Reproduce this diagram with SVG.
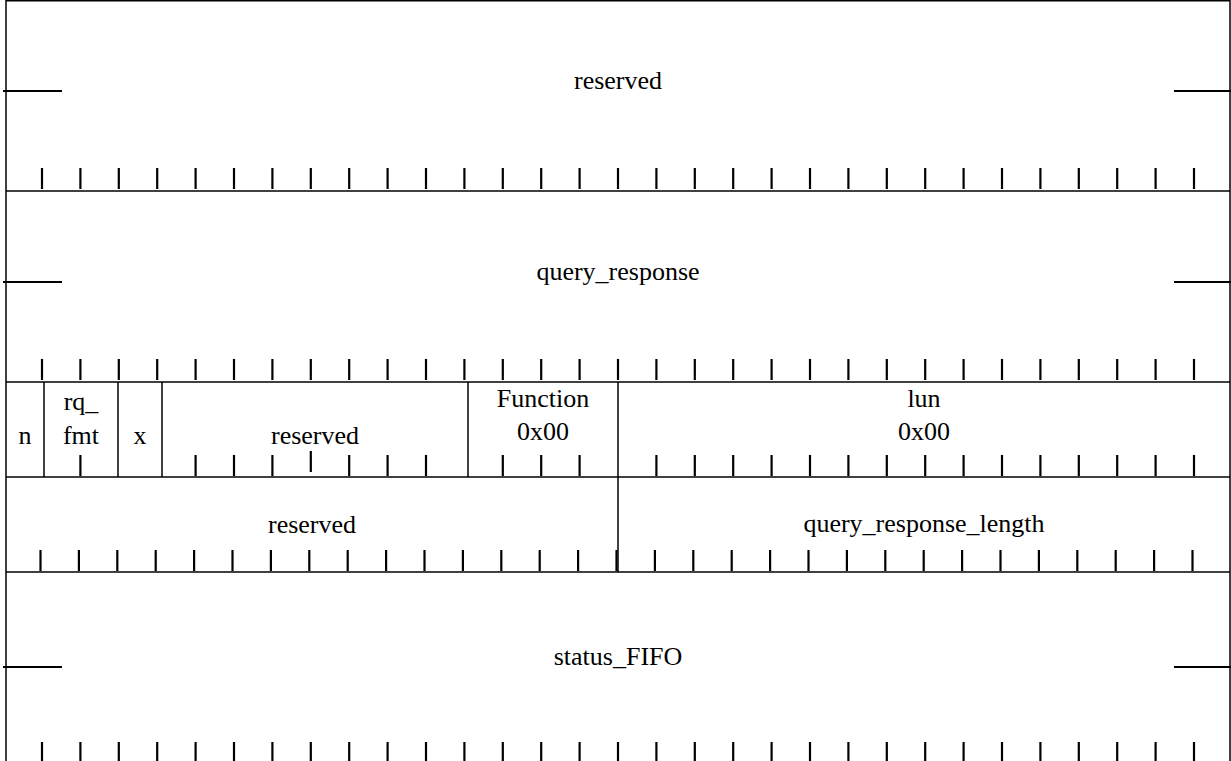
<svg xmlns="http://www.w3.org/2000/svg" width="1231" height="761" viewBox="0 0 1231 761">
<style>
.b{stroke:#000;stroke-width:1.5;fill:none}
.m{stroke:#000;stroke-width:2;fill:none}
.t{stroke:#000;stroke-width:2.2;fill:none}
text{font-family:"Liberation Serif","Times New Roman",serif;font-size:26px;fill:#000;text-anchor:middle}
</style>
<defs>
<path id="tk" d="M0,0 v21" class="t"/>
</defs>
<rect width="1231" height="761" fill="#fff"/>
<g id="frame">
<line class="b" x1="6" y1="0.75" x2="1230" y2="0.75"/>
<line class="b" x1="6" y1="0" x2="6" y2="761"/>
<line class="b" x1="1230" y1="0" x2="1230" y2="761"/>
<line class="b" x1="6" y1="191" x2="1230" y2="191"/>
<line class="b" x1="6" y1="382" x2="1230" y2="382"/>
<line class="b" x1="6" y1="477" x2="1230" y2="477"/>
<line class="b" x1="6" y1="572" x2="1230" y2="572"/>
</g>
<g id="row1-reserved">
<text x="618" y="89">reserved</text>
<line class="m" x1="3" y1="91" x2="62" y2="91"/>
<line class="m" x1="1174" y1="91" x2="1231" y2="91"/>
</g>
<g id="row2-query_response">
<text x="618" y="280">query_response</text>
<line class="m" x1="3" y1="282" x2="62" y2="282"/>
<line class="m" x1="1174" y1="282" x2="1231" y2="282"/>
</g>
<g id="row3-n">
<line class="b" x1="44" y1="382" x2="44" y2="477"/>
<text x="25" y="444">n</text>
</g>
<g id="row3-rq_fmt">
<line class="b" x1="118" y1="382" x2="118" y2="477"/>
<text x="81" y="410">rq_</text>
<text x="81" y="444">fmt</text>
</g>
<g id="row3-x">
<line class="b" x1="162" y1="382" x2="162" y2="477"/>
<text x="140" y="444">x</text>
</g>
<g id="row3-reserved">
<line class="b" x1="468" y1="382" x2="468" y2="477"/>
<text x="315" y="444">reserved</text>
</g>
<g id="row3-function">
<line class="b" x1="618" y1="382" x2="618" y2="572"/>
<text x="543" y="407">Function</text>
<text x="543" y="440">0x00</text>
</g>
<g id="row3-lun">
<text x="924" y="407">lun</text>
<text x="924" y="440">0x00</text>
</g>
<g id="row4-reserved">
<text x="312" y="533">reserved</text>
</g>
<g id="row4-query_response_length">
<text x="924" y="532">query_response_length</text>
</g>
<g id="row5-status_FIFO">
<text x="618" y="665">status_FIFO</text>
<line class="m" x1="3" y1="667" x2="62" y2="667"/>
<line class="m" x1="1174" y1="667" x2="1231" y2="667"/>
</g>
<g id="connectors">
<g id="ticks-row1" transform="translate(0,168)">
<use href="#tk" x="42"/><use href="#tk" x="80.4"/><use href="#tk" x="118.8"/><use href="#tk" x="157.2"/><use href="#tk" x="195.6"/><use href="#tk" x="234"/><use href="#tk" x="272.4"/><use href="#tk" x="310.8"/><use href="#tk" x="349.2"/><use href="#tk" x="387.6"/><use href="#tk" x="426"/><use href="#tk" x="464.4"/><use href="#tk" x="502.8"/><use href="#tk" x="541.2"/><use href="#tk" x="579.6"/><use href="#tk" x="618"/><use href="#tk" x="656.4"/><use href="#tk" x="694.8"/><use href="#tk" x="733.2"/><use href="#tk" x="771.6"/><use href="#tk" x="810"/><use href="#tk" x="848.4"/><use href="#tk" x="886.8"/><use href="#tk" x="925.2"/><use href="#tk" x="963.6"/><use href="#tk" x="1002"/><use href="#tk" x="1040.4"/><use href="#tk" x="1078.8"/><use href="#tk" x="1117.2"/><use href="#tk" x="1155.6"/><use href="#tk" x="1194"/>
</g>
<g id="ticks-row2" transform="translate(0,359)">
<use href="#tk" x="42"/><use href="#tk" x="80.4"/><use href="#tk" x="118.8"/><use href="#tk" x="157.2"/><use href="#tk" x="195.6"/><use href="#tk" x="234"/><use href="#tk" x="272.4"/><use href="#tk" x="310.8"/><use href="#tk" x="349.2"/><use href="#tk" x="387.6"/><use href="#tk" x="426"/><use href="#tk" x="464.4"/><use href="#tk" x="502.8"/><use href="#tk" x="541.2"/><use href="#tk" x="579.6"/><use href="#tk" x="618"/><use href="#tk" x="656.4"/><use href="#tk" x="694.8"/><use href="#tk" x="733.2"/><use href="#tk" x="771.6"/><use href="#tk" x="810"/><use href="#tk" x="848.4"/><use href="#tk" x="886.8"/><use href="#tk" x="925.2"/><use href="#tk" x="963.6"/><use href="#tk" x="1002"/><use href="#tk" x="1040.4"/><use href="#tk" x="1078.8"/><use href="#tk" x="1117.2"/><use href="#tk" x="1155.6"/><use href="#tk" x="1194"/>
</g>
<g id="ticks-row3" transform="translate(0,455)">
<use href="#tk" x="80.4"/><use href="#tk" x="195.6"/><use href="#tk" x="234"/><use href="#tk" x="272.4"/><use href="#tk" x="310.8" y="-4"/><use href="#tk" x="349.2"/><use href="#tk" x="387.6"/><use href="#tk" x="426"/><use href="#tk" x="502.8"/><use href="#tk" x="541.2"/><use href="#tk" x="579.6"/><use href="#tk" x="656.4"/><use href="#tk" x="694.8"/><use href="#tk" x="733.2"/><use href="#tk" x="771.6"/><use href="#tk" x="810"/><use href="#tk" x="848.4"/><use href="#tk" x="886.8"/><use href="#tk" x="925.2"/><use href="#tk" x="963.6"/><use href="#tk" x="1002"/><use href="#tk" x="1040.4"/><use href="#tk" x="1078.8"/><use href="#tk" x="1117.2"/><use href="#tk" x="1155.6"/><use href="#tk" x="1194"/>
</g>
<g id="ticks-row4" transform="translate(-1.5,550)">
<use href="#tk" x="42"/><use href="#tk" x="80.4"/><use href="#tk" x="118.8"/><use href="#tk" x="157.2"/><use href="#tk" x="195.6"/><use href="#tk" x="234"/><use href="#tk" x="272.4"/><use href="#tk" x="310.8"/><use href="#tk" x="349.2"/><use href="#tk" x="387.6"/><use href="#tk" x="426"/><use href="#tk" x="464.4"/><use href="#tk" x="502.8"/><use href="#tk" x="541.2"/><use href="#tk" x="579.6"/><use href="#tk" x="618"/><use href="#tk" x="656.4"/><use href="#tk" x="694.8"/><use href="#tk" x="733.2"/><use href="#tk" x="771.6"/><use href="#tk" x="810"/><use href="#tk" x="848.4"/><use href="#tk" x="886.8"/><use href="#tk" x="925.2"/><use href="#tk" x="963.6"/><use href="#tk" x="1002"/><use href="#tk" x="1040.4"/><use href="#tk" x="1078.8"/><use href="#tk" x="1117.2"/><use href="#tk" x="1155.6"/><use href="#tk" x="1194"/>
</g>
<g id="ticks-row5" transform="translate(0,742)">
<use href="#tk" x="42"/><use href="#tk" x="80.4"/><use href="#tk" x="118.8"/><use href="#tk" x="157.2"/><use href="#tk" x="195.6"/><use href="#tk" x="234"/><use href="#tk" x="272.4"/><use href="#tk" x="310.8"/><use href="#tk" x="349.2"/><use href="#tk" x="387.6"/><use href="#tk" x="426"/><use href="#tk" x="464.4"/><use href="#tk" x="502.8"/><use href="#tk" x="541.2"/><use href="#tk" x="579.6"/><use href="#tk" x="618"/><use href="#tk" x="656.4"/><use href="#tk" x="694.8"/><use href="#tk" x="733.2"/><use href="#tk" x="771.6"/><use href="#tk" x="810"/><use href="#tk" x="848.4"/><use href="#tk" x="886.8"/><use href="#tk" x="925.2"/><use href="#tk" x="963.6"/><use href="#tk" x="1002"/><use href="#tk" x="1040.4"/><use href="#tk" x="1078.8"/><use href="#tk" x="1117.2"/><use href="#tk" x="1155.6"/><use href="#tk" x="1194"/>
</g>
</g>
</svg>
